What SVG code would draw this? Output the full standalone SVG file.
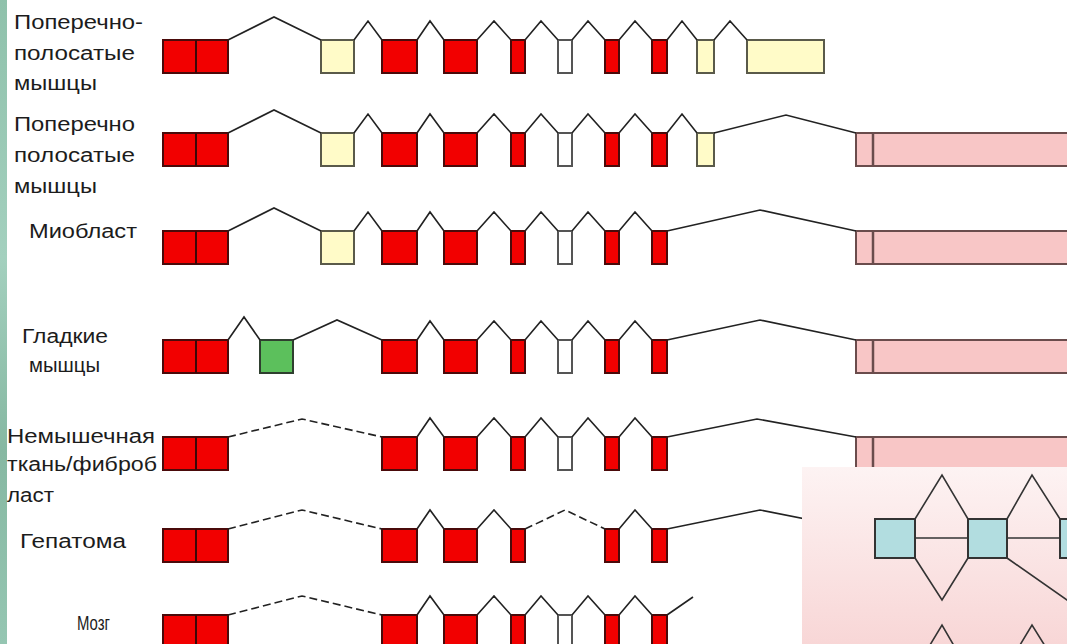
<svg xmlns="http://www.w3.org/2000/svg" width="1067" height="644" viewBox="0 0 1067 644">
<defs>
<style>
.lbl{font-family:"Liberation Sans",Arial,sans-serif;font-size:20px;fill:#1c1c1c}
.red{fill:#f20000;stroke:#4a0a0a;stroke-width:2}
.yel{fill:#fffbc8;stroke:#5a5a4a;stroke-width:2}
.wht{fill:#ffffff;stroke:#555555;stroke-width:2}
.grn{fill:#5cc05c;stroke:#2f3f2f;stroke-width:2}
.pnk{fill:#f8c6c6;stroke:#6a4c4c;stroke-width:2}
.div{stroke:#3a0808;stroke-width:2}
.pdiv{stroke:#6a4c4c;stroke-width:2.5}
.intr{fill:none;stroke:#222222;stroke-width:1.6;stroke-linejoin:miter}
.dash{fill:none;stroke:#222222;stroke-width:1.6;stroke-dasharray:8 4}
.blu{fill:#b2dde0;stroke:#333333;stroke-width:2}
.ins{fill:none;stroke:#333333;stroke-width:1.6}
</style>
<linearGradient id="stripe" x1="0" y1="0" x2="0" y2="1">
<stop offset="0" stop-color="#8fc1ab"/>
<stop offset="0.4" stop-color="#a3d0be"/>
<stop offset="0.7" stop-color="#86b8a2"/>
<stop offset="1" stop-color="#95c6b2"/>
</linearGradient>
<linearGradient id="insetbg" x1="0" y1="0" x2="0" y2="1">
<stop offset="0" stop-color="#fdf3f3"/>
<stop offset="1" stop-color="#f8d6d6"/>
</linearGradient>
</defs>
<rect x="0" y="0" width="1067" height="644" fill="#ffffff"/>
<rect x="0" y="0" width="7" height="644" fill="url(#stripe)"/>

<g id="row1">
<text class="lbl" x="14" y="29" textLength="129" lengthAdjust="spacingAndGlyphs">Поперечно-</text>
<text class="lbl" x="14" y="60" textLength="121" lengthAdjust="spacingAndGlyphs">полосатые</text>
<text class="lbl" x="14" y="90" textLength="83" lengthAdjust="spacingAndGlyphs">мышцы</text>
<rect class="red" x="163" y="40" width="65" height="33"/><line class="div" x1="196" y1="40" x2="196" y2="73"/>
<rect class="yel" x="321" y="40" width="33" height="33"/>
<rect class="red" x="382" y="40" width="35" height="33"/>
<rect class="red" x="444" y="40" width="33" height="33"/>
<rect class="red" x="511" y="40" width="14" height="33"/>
<rect class="wht" x="558" y="40" width="14" height="33"/>
<rect class="red" x="605" y="40" width="14" height="33"/>
<rect class="red" x="652" y="40" width="15" height="33"/>
<rect class="yel" x="697" y="40" width="17" height="33"/>
<rect class="yel" x="747" y="40" width="77" height="33"/>
</g>

<g id="row2">
<text class="lbl" x="14" y="131" textLength="121" lengthAdjust="spacingAndGlyphs">Поперечно</text>
<text class="lbl" x="14" y="162" textLength="121" lengthAdjust="spacingAndGlyphs">полосатые</text>
<text class="lbl" x="14" y="193" textLength="83" lengthAdjust="spacingAndGlyphs">мышцы</text>
<rect class="red" x="163" y="133" width="65" height="33"/><line class="div" x1="196" y1="133" x2="196" y2="166"/>
<rect class="yel" x="321" y="133" width="33" height="33"/>
<rect class="red" x="382" y="133" width="35" height="33"/>
<rect class="red" x="444" y="133" width="33" height="33"/>
<rect class="red" x="511" y="133" width="14" height="33"/>
<rect class="wht" x="558" y="133" width="14" height="33"/>
<rect class="red" x="605" y="133" width="14" height="33"/>
<rect class="red" x="652" y="133" width="15" height="33"/>
<rect class="yel" x="697" y="133" width="17" height="33"/>
<rect class="pnk" x="856" y="133" width="230" height="33"/><line class="pdiv" x1="873" y1="133" x2="873" y2="166"/>
</g>

<g id="row3">
<text class="lbl" x="29" y="238" textLength="108" lengthAdjust="spacingAndGlyphs">Миобласт</text>
<rect class="red" x="163" y="231" width="65" height="33"/><line class="div" x1="196" y1="231" x2="196" y2="264"/>
<rect class="yel" x="321" y="231" width="33" height="33"/>
<rect class="red" x="382" y="231" width="35" height="33"/>
<rect class="red" x="444" y="231" width="33" height="33"/>
<rect class="red" x="511" y="231" width="14" height="33"/>
<rect class="wht" x="558" y="231" width="14" height="33"/>
<rect class="red" x="605" y="231" width="14" height="33"/>
<rect class="red" x="652" y="231" width="15" height="33"/>
<rect class="pnk" x="856" y="231" width="230" height="33"/><line class="pdiv" x1="873" y1="231" x2="873" y2="264"/>
</g>

<g id="row4">
<text class="lbl" x="22" y="343" textLength="86" lengthAdjust="spacingAndGlyphs">Гладкие</text>
<text class="lbl" x="29" y="372" textLength="71" lengthAdjust="spacingAndGlyphs">мышцы</text>
<rect class="red" x="163" y="340" width="65" height="33"/><line class="div" x1="196" y1="340" x2="196" y2="373"/>
<rect class="grn" x="260" y="340" width="33" height="33"/>
<rect class="red" x="382" y="340" width="35" height="33"/>
<rect class="red" x="444" y="340" width="33" height="33"/>
<rect class="red" x="511" y="340" width="14" height="33"/>
<rect class="wht" x="558" y="340" width="14" height="33"/>
<rect class="red" x="605" y="340" width="14" height="33"/>
<rect class="red" x="652" y="340" width="15" height="33"/>
<rect class="pnk" x="856" y="340" width="230" height="33"/><line class="pdiv" x1="873" y1="340" x2="873" y2="373"/>
</g>

<g id="row5">
<text class="lbl" x="7" y="443" textLength="148" lengthAdjust="spacingAndGlyphs">Немышечная</text>
<text class="lbl" x="7" y="471" textLength="150" lengthAdjust="spacingAndGlyphs">ткань/фиброб</text>
<text class="lbl" x="7" y="502" textLength="47" lengthAdjust="spacingAndGlyphs">ласт</text>
<rect class="red" x="163" y="437" width="65" height="33"/><line class="div" x1="196" y1="437" x2="196" y2="470"/>
<rect class="red" x="382" y="437" width="35" height="33"/>
<rect class="red" x="444" y="437" width="33" height="33"/>
<rect class="red" x="511" y="437" width="14" height="33"/>
<rect class="wht" x="558" y="437" width="14" height="33"/>
<rect class="red" x="605" y="437" width="14" height="33"/>
<rect class="red" x="652" y="437" width="15" height="33"/>
<rect class="pnk" x="856" y="437" width="230" height="33"/><line class="pdiv" x1="873" y1="437" x2="873" y2="470"/>
</g>

<g id="row6">
<text class="lbl" x="20" y="548" textLength="106" lengthAdjust="spacingAndGlyphs">Гепатома</text>
<rect class="red" x="163" y="529" width="65" height="33"/><line class="div" x1="196" y1="529" x2="196" y2="562"/>
<rect class="red" x="382" y="529" width="35" height="33"/>
<rect class="red" x="444" y="529" width="33" height="33"/>
<rect class="red" x="511" y="529" width="14" height="33"/>
<rect class="red" x="605" y="529" width="14" height="33"/>
<rect class="red" x="652" y="529" width="15" height="33"/>
</g>

<g id="row7">
<text class="lbl" x="77" y="630" textLength="33" lengthAdjust="spacingAndGlyphs">Мозг</text>
<rect class="red" x="163" y="615" width="65" height="33"/><line class="div" x1="196" y1="615" x2="196" y2="648"/>
<rect class="red" x="382" y="615" width="35" height="33"/>
<rect class="red" x="444" y="615" width="33" height="33"/>
<rect class="red" x="511" y="615" width="14" height="33"/>
<rect class="wht" x="558" y="615" width="14" height="33"/>
<rect class="red" x="605" y="615" width="14" height="33"/>
<rect class="red" x="652" y="615" width="15" height="33"/>
</g>

<g id="connectors">
<path class="intr" d="M228,40 L274,17 L321,40 M354,40 L368,21 L382,40 M417,40 L430,21 L444,40 M477,40 L494,21 L511,40 M525,40 L541,21 L558,40 M572,40 L588,21 L605,40 M619,40 L635,21 L652,40 M667,40 L682,21 L697,40 M714,40 L730,21 L747,40"/>
<path class="intr" d="M228,133 L274,110 L321,133 M354,133 L368,114 L382,133 M417,133 L430,114 L444,133 M477,133 L494,114 L511,133 M525,133 L541,114 L558,133 M572,133 L588,114 L605,133 M619,133 L635,114 L652,133 M667,133 L682,114 L697,133 M714,133 L786,115 L856,133"/>
<path class="intr" d="M228,231 L274,208 L321,231 M354,231 L368,212 L382,231 M417,231 L430,212 L444,231 M477,231 L494,212 L511,231 M525,231 L541,212 L558,231 M572,231 L588,212 L605,231 M619,231 L635,212 L652,231 M667,231 L760,210 L856,231"/>
<path class="intr" d="M228,340 L244,317 L260,340 M293,340 L337,320 L382,340 M417,340 L430,321 L444,340 M477,340 L494,321 L511,340 M525,340 L541,321 L558,340 M572,340 L588,321 L605,340 M619,340 L635,321 L652,340 M667,340 L760,320 L856,340"/>
<path class="dash" d="M228,437 L302,419 L382,437"/>
<path class="intr" d="M417,437 L430,418 L444,437 M477,437 L494,418 L511,437 M525,437 L541,418 L558,437 M572,437 L588,418 L605,437 M619,437 L635,418 L652,437 M667,437 L757,419 L856,437"/>
<path class="dash" d="M228,529 L302,510 L382,529 M525,529 L565,510 L605,529"/>
<path class="intr" d="M417,529 L430,510 L444,529 M477,529 L494,510 L511,529 M619,529 L635,510 L652,529 M667,529 L760,510 L856,529"/>
<path class="dash" d="M228,615 L302,596 L382,615"/>
<path class="intr" d="M417,615 L430,596 L444,615 M477,615 L494,596 L511,615 M525,615 L541,596 L558,615 M572,615 L588,596 L605,615 M619,615 L635,596 L652,615 M667,615 L693,597"/>
</g>

<g id="inset">
<rect x="802" y="467" width="270" height="180" fill="url(#insetbg)"/>
<path class="ins" d="M915,519 L942,475 L968,519 M915,558 L942,600 L968,558 M915,538 L968,538 M1007,538 L1060,538 M1007,519 L1032,475 L1060,519 M1007,558 L1080,609 M915,670 L942,625 L968,670 M1005,670 L1032,625 L1060,670"/>
<rect class="blu" x="875" y="519" width="40" height="39"/>
<rect class="blu" x="968" y="519" width="39" height="39"/>
<rect class="blu" x="1060" y="519" width="40" height="39"/>
</g>
</svg>
